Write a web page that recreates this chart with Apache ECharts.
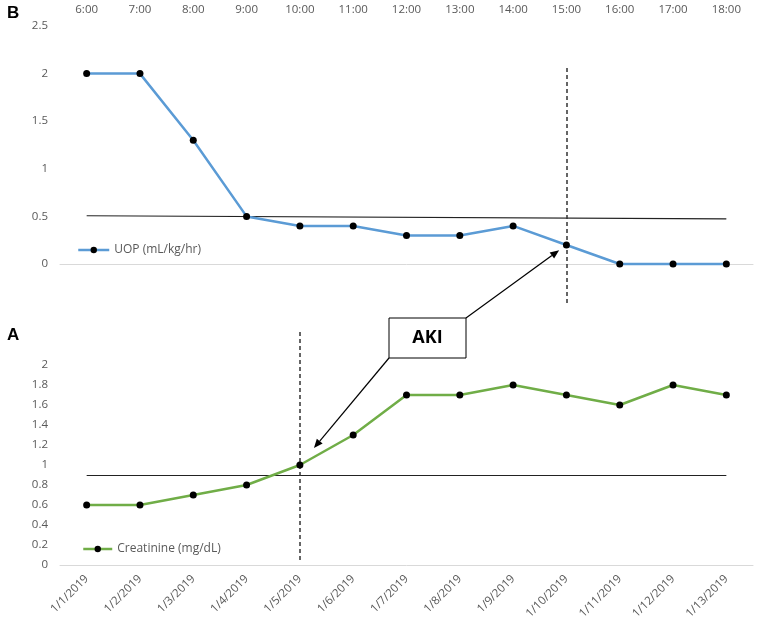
<!DOCTYPE html>
<html><head><meta charset="utf-8">
<script src="https://cdn.jsdelivr.net/npm/echarts@6/dist/echarts.min.js"></script>
<style>html,body{margin:0;padding:0;background:#fff}#c{width:765px;height:632px}</style>
</head><body><div id="c"></div>
<script>
// ---- Data ----
const hours = ['6:00','7:00','8:00','9:00','10:00','11:00','12:00','13:00','14:00','15:00','16:00','17:00','18:00'];
const uop = [2, 2, 1.3, 0.5, 0.4, 0.4, 0.3, 0.3, 0.4, 0.2, 0, 0, 0];
const uopThreshold = [0.507, 0.473];        // value at first and last hour
const uopOnset = '15:00';
const uopOnsetRange = [2.06, -0.41];
const uopTicks = [0, 0.5, 1, 1.5, 2, 2.5];

const dates = ['1/1/2019','1/2/2019','1/3/2019','1/4/2019','1/5/2019','1/6/2019','1/7/2019','1/8/2019','1/9/2019','1/10/2019','1/11/2019','1/12/2019','1/13/2019'];
const creat = [0.6, 0.6, 0.7, 0.8, 1.0, 1.3, 1.7, 1.7, 1.8, 1.7, 1.6, 1.8, 1.7];
const creatThreshold = [0.9, 0.9];
const creatOnset = '1/5/2019';
const creatOnsetRange = [2.33, 0.05];
const creatTicks = [0, 0.2, 0.4, 0.6, 0.8, 1, 1.2, 1.4, 1.6, 1.8, 2];

const uopName = 'UOP (mL/kg/hr)';
const creatName = 'Creatinine (mg/dL)';
const annotationText = 'AKI';

// ---- Chart ----
const FONT = '"Open Sans", "Liberation Sans", sans-serif';
const GRAY = '#595959';
const chart = echarts.init(document.getElementById('c'), null, {renderer: 'canvas'});

function tickFmt(list) {
  return function (v) {
    return list.some(t => Math.abs(t - v) < 1e-6) ? String(+v.toFixed(2)) : '';
  };
}

const option = {
  backgroundColor: '#fff',
  animation: false,
  textStyle: {fontFamily: FONT},
  grid: [
    {left: 60, right: 12, top: 26, height: 285.6},
    {left: 60, right: 12, top: 325, height: 240}
  ],
  legend: [
    {data: [uopName], left: 77, top: 244, padding: 0, itemWidth: 31, itemHeight: 8, itemGap: 3,
     lineStyle: {width: 2.5}, textStyle: {color: GRAY, fontSize: 12, fontFamily: FONT}},
    {data: [creatName], left: 82, top: 543, padding: 0, itemWidth: 29, itemHeight: 8, itemGap: 3,
     lineStyle: {width: 2.5}, textStyle: {color: GRAY, fontSize: 12, fontFamily: FONT}}
  ],
  xAxis: [
    {type: 'category', gridIndex: 0, data: hours, position: 'top',
     axisLine: {show: false, onZero: false}, axisTick: {show: false},
     axisLabel: {color: GRAY, fontSize: 11.5, margin: 10, interval: 0}},
    {type: 'category', gridIndex: 0, data: hours, position: 'bottom',
     axisLine: {show: true, onZero: true, onZeroAxisIndex: 0, lineStyle: {color: '#d9d9d9', width: 1}},
     axisTick: {show: false}, axisLabel: {show: false}},
    {type: 'category', gridIndex: 1, data: dates, position: 'bottom',
     axisLine: {show: true, lineStyle: {color: '#d9d9d9', width: 1}},
     axisTick: {show: false},
     axisLabel: {color: GRAY, fontSize: 11.5, rotate: 45, margin: 12, interval: 0}}
  ],
  yAxis: [
    {type: 'value', gridIndex: 0, min: -0.5, max: 2.5, interval: 0.5,
     axisLine: {show: false, onZero: false}, axisTick: {show: false}, splitLine: {show: false},
     axisLabel: {color: GRAY, fontSize: 11.5, margin: 12, formatter: tickFmt(uopTicks)}},
    {type: 'value', gridIndex: 1, min: 0, max: 2.4, interval: 0.2,
     axisLine: {show: false, onZero: false}, axisTick: {show: false}, splitLine: {show: false},
     axisLabel: {color: GRAY, fontSize: 11.5, margin: 12, formatter: tickFmt(creatTicks)}}
  ],
  series: [
    {name: uopName, type: 'line', xAxisIndex: 0, yAxisIndex: 0, data: uop,
     symbol: 'circle', symbolSize: 7, z: 5,
     lineStyle: {color: '#5B9BD5', width: 2.5}, itemStyle: {color: '#000'},
     markLine: {silent: true, symbol: 'none', label: {show: false}, animation: false,
       data: [
         [{coord: [hours[0], uopThreshold[0]], lineStyle: {color: '#222', width: 1.2, type: 'solid'}},
          {coord: [hours[hours.length - 1], uopThreshold[1]]}],
         [{coord: [uopOnset, uopOnsetRange[0]], lineStyle: {color: '#333', width: 1.5, type: [4, 3]}},
          {coord: [uopOnset, uopOnsetRange[1]]}]
       ]}},
    {name: creatName, type: 'line', xAxisIndex: 2, yAxisIndex: 1, data: creat,
     symbol: 'circle', symbolSize: 7, z: 5,
     lineStyle: {color: '#70AD47', width: 2.5}, itemStyle: {color: '#000'},
     markLine: {silent: true, symbol: 'none', label: {show: false}, animation: false,
       data: [
         [{coord: [dates[0], creatThreshold[0]], lineStyle: {color: '#222', width: 1.2, type: 'solid'}},
          {coord: [dates[dates.length - 1], creatThreshold[1]]}],
         [{coord: [creatOnset, creatOnsetRange[0]], lineStyle: {color: '#333', width: 1.5, type: [4, 3]}},
          {coord: [creatOnset, creatOnsetRange[1]]}]
       ]}}
  ]
};
chart.setOption(option);

// ---- Annotations (box + arrows pointing at data points) ----
const p1 = chart.convertToPixel({xAxisIndex: 0, yAxisIndex: 0}, [uopOnset, uop[hours.indexOf(uopOnset)]]);
const p2 = chart.convertToPixel({xAxisIndex: 2, yAxisIndex: 1}, [creatOnset, creat[dates.indexOf(creatOnset)]]);

const box = {x: 389, y: 318, w: 77, h: 40};
function arrow(from, target, gap) {
  const dx = from[0] - target[0], dy = from[1] - target[1];
  const len = Math.hypot(dx, dy);
  const ux = dx / len, uy = dy / len;
  const tip = [target[0] + ux * gap, target[1] + uy * gap];
  const L = 9, W = 3.8;
  const base = [tip[0] + ux * L, tip[1] + uy * L];
  const px = -uy, py = ux;
  return [
    {type: 'line', z: 100, shape: {x1: from[0], y1: from[1], x2: base[0], y2: base[1]},
     style: {stroke: '#000', lineWidth: 1.2}},
    {type: 'polygon', z: 100, shape: {points: [tip, [base[0] + px * W, base[1] + py * W], [base[0] - px * W, base[1] - py * W]]},
     style: {fill: '#000'}}
  ];
}

chart.setOption({
  graphic: [
    {type: 'text', left: 7, top: 5, z: 100, style: {text: 'B', font: 'bold 17px "Liberation Sans", Arial, sans-serif', fill: '#000'}},
    {type: 'text', left: 7, top: 327, z: 100, style: {text: 'A', font: 'bold 17px "Liberation Sans", Arial, sans-serif', fill: '#000'}},
    {type: 'rect', z: 100, shape: {x: box.x, y: box.y, width: box.w, height: box.h},
     style: {fill: '#fff', stroke: '#000', lineWidth: 1}},
    {type: 'text', z: 101, x: box.x + box.w / 2, y: box.y + box.h / 2,
     style: {text: annotationText, font: 'bold 18px "Open Sans", sans-serif', fill: '#000', align: 'center', verticalAlign: 'middle'}}
  ].concat(arrow([box.x + box.w, box.y], p1, 9), arrow([box.x, box.y + box.h], p2, 22))
});
</script>
</body></html>
